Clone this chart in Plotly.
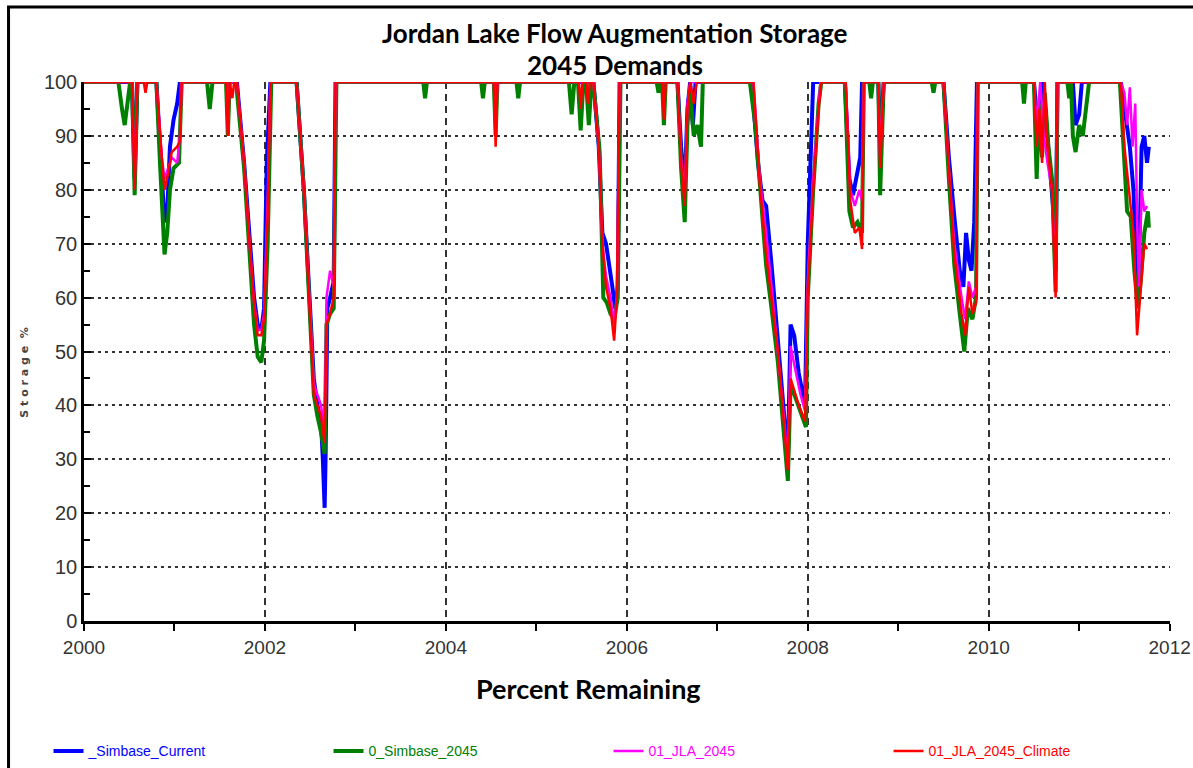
import plotly.graph_objects as go

# ---------------- data (decimal year, storage %) ----------------
SIMBASE_CURRENT = [
    (2000.00, 100), (2000.53, 100), (2000.56, 82), (2000.59, 100), (2000.80, 100),
    (2000.85, 85), (2000.89, 74), (2000.92, 76), (2000.95, 88), (2000.99, 93),
    (2001.03, 96), (2001.06, 100), (2001.69, 100), (2001.77, 85), (2001.83, 70),
    (2001.88, 60), (2001.92, 55), (2001.96, 54), (2001.99, 58), (2002.02, 85),
    (2002.06, 100), (2002.35, 100), (2002.43, 80), (2002.49, 60), (2002.54, 45),
    (2002.58, 40), (2002.62, 37), (2002.64, 30), (2002.66, 21), (2002.67, 30),
    (2002.69, 58), (2002.72, 60), (2002.76, 63), (2002.78, 100), (2005.63, 100),
    (2005.69, 88), (2005.73, 72), (2005.77, 70), (2005.80, 67), (2005.84, 62),
    (2005.87, 58), (2005.90, 62), (2005.92, 100), (2006.56, 100), (2006.60, 88),
    (2006.64, 80), (2006.67, 95), (2006.70, 100), (2006.73, 92), (2006.76, 100),
    (2007.38, 100), (2007.45, 85), (2007.50, 78), (2007.54, 77), (2007.60, 66),
    (2007.67, 52), (2007.73, 40), (2007.78, 30), (2007.81, 55), (2007.85, 53),
    (2007.90, 46), (2007.97, 40), (2008.00, 70), (2008.03, 84), (2008.06, 100),
    (2008.41, 100), (2008.46, 82), (2008.50, 79), (2008.55, 84), (2008.58, 86),
    (2008.60, 100), (2008.78, 100), (2008.80, 88), (2008.84, 100), (2009.50, 100),
    (2009.56, 86), (2009.62, 75), (2009.68, 65), (2009.72, 62), (2009.75, 72),
    (2009.78, 67), (2009.81, 65), (2009.84, 74), (2009.87, 100), (2010.50, 100),
    (2010.55, 90), (2010.60, 100), (2010.64, 92), (2010.68, 85), (2010.72, 75),
    (2010.74, 65), (2010.76, 100), (2010.93, 100), (2010.96, 92), (2011.00, 94),
    (2011.03, 100), (2011.46, 100), (2011.52, 92), (2011.56, 88), (2011.60, 80),
    (2011.64, 62), (2011.67, 72), (2011.69, 88), (2011.72, 90), (2011.75, 85),
    (2011.77, 88),
]

SIMBASE_2045 = [
    (2000.00, 100), (2000.38, 100), (2000.42, 95), (2000.45, 92), (2000.48, 96),
    (2000.51, 100), (2000.53, 100), (2000.56, 79), (2000.59, 100), (2000.80, 100),
    (2000.84, 85), (2000.87, 72), (2000.89, 68), (2000.92, 72), (2000.95, 80),
    (2000.99, 84), (2001.05, 85), (2001.08, 100), (2001.36, 100), (2001.39, 95),
    (2001.42, 100), (2001.57, 100), (2001.59, 90), (2001.61, 100), (2001.68, 100),
    (2001.77, 84), (2001.83, 68), (2001.88, 55), (2001.92, 49), (2001.96, 48),
    (2001.99, 52), (2002.03, 70), (2002.07, 100), (2002.35, 100), (2002.43, 80),
    (2002.49, 60), (2002.54, 42), (2002.58, 38), (2002.62, 35), (2002.66, 31),
    (2002.68, 55), (2002.72, 57), (2002.76, 58), (2002.79, 100), (2003.75, 100),
    (2003.77, 97), (2003.79, 100), (2004.39, 100), (2004.41, 97), (2004.43, 100),
    (2004.53, 100), (2004.55, 90), (2004.57, 100), (2004.78, 100), (2004.80, 97),
    (2004.82, 100), (2005.36, 100), (2005.39, 94), (2005.42, 100), (2005.46, 100),
    (2005.49, 91), (2005.52, 100), (2005.55, 100), (2005.58, 92), (2005.61, 100),
    (2005.63, 100), (2005.70, 87), (2005.74, 60), (2005.78, 59), (2005.82, 57),
    (2005.86, 56), (2005.90, 60), (2005.93, 100), (2006.33, 100), (2006.35, 98),
    (2006.37, 100), (2006.39, 100), (2006.41, 92), (2006.43, 100), (2006.56, 100),
    (2006.60, 84), (2006.64, 74), (2006.67, 92), (2006.70, 98), (2006.74, 90),
    (2006.78, 92), (2006.82, 88), (2006.84, 100), (2007.36, 100), (2007.42, 92),
    (2007.48, 80), (2007.54, 66), (2007.60, 58), (2007.67, 48), (2007.73, 36),
    (2007.78, 26), (2007.81, 44), (2007.90, 40), (2007.98, 36), (2008.00, 60),
    (2008.06, 80), (2008.12, 96), (2008.15, 100), (2008.41, 100), (2008.46, 76),
    (2008.50, 73), (2008.55, 74), (2008.60, 72), (2008.62, 100), (2008.68, 100),
    (2008.70, 97), (2008.72, 100), (2008.78, 100), (2008.80, 79), (2008.84, 100),
    (2009.37, 100), (2009.39, 98), (2009.41, 100), (2009.50, 100), (2009.56, 82),
    (2009.62, 66), (2009.68, 57), (2009.73, 50), (2009.77, 58), (2009.82, 56),
    (2009.86, 60), (2009.88, 100), (2010.37, 100), (2010.39, 96), (2010.41, 100),
    (2010.50, 100), (2010.53, 82), (2010.56, 96), (2010.59, 86), (2010.62, 98),
    (2010.66, 88), (2010.70, 82), (2010.74, 61), (2010.76, 100), (2010.87, 100),
    (2010.89, 97), (2010.91, 100), (2010.93, 90), (2010.96, 87), (2011.00, 92),
    (2011.04, 90), (2011.08, 96), (2011.11, 100), (2011.45, 100), (2011.50, 85),
    (2011.53, 76), (2011.57, 75), (2011.61, 65), (2011.65, 58), (2011.68, 63),
    (2011.72, 72), (2011.76, 76), (2011.77, 73),
]

JLA_2045 = [
    (2000.00, 100), (2000.53, 100), (2000.56, 81), (2000.59, 100), (2000.80, 100),
    (2000.86, 86), (2000.89, 82), (2000.93, 84), (2000.97, 86), (2001.03, 85),
    (2001.06, 90), (2001.08, 100), (2001.57, 100), (2001.59, 91), (2001.61, 100),
    (2001.69, 100), (2001.77, 85), (2001.83, 70), (2001.88, 59), (2001.92, 54),
    (2001.96, 54), (2001.99, 57), (2002.03, 78), (2002.06, 100), (2002.35, 100),
    (2002.43, 80), (2002.49, 60), (2002.54, 44), (2002.58, 42), (2002.62, 40),
    (2002.66, 35), (2002.68, 60), (2002.72, 65), (2002.76, 62), (2002.78, 100),
    (2004.53, 100), (2004.55, 90), (2004.57, 100), (2005.63, 100), (2005.69, 88),
    (2005.73, 70), (2005.77, 64), (2005.82, 60), (2005.86, 55), (2005.89, 60),
    (2005.92, 100), (2006.56, 100), (2006.60, 86), (2006.64, 79), (2006.67, 96),
    (2006.70, 100), (2007.40, 100), (2007.47, 82), (2007.54, 72), (2007.60, 62),
    (2007.67, 50), (2007.73, 39), (2007.78, 29), (2007.81, 51), (2007.87, 46),
    (2007.92, 42), (2007.97, 39), (2008.00, 63), (2008.06, 82), (2008.12, 96),
    (2008.14, 100), (2008.42, 100), (2008.47, 80), (2008.52, 77), (2008.57, 80),
    (2008.60, 78), (2008.62, 100), (2008.78, 100), (2008.80, 86), (2008.84, 100),
    (2009.50, 100), (2009.56, 84), (2009.62, 70), (2009.70, 60), (2009.74, 56),
    (2009.78, 63), (2009.82, 60), (2009.86, 62), (2009.88, 100), (2010.50, 100),
    (2010.53, 92), (2010.57, 100), (2010.61, 90), (2010.65, 85), (2010.70, 80),
    (2010.74, 62), (2010.76, 100), (2011.46, 100), (2011.50, 98), (2011.53, 92),
    (2011.56, 99), (2011.59, 88), (2011.62, 96), (2011.64, 75), (2011.66, 62),
    (2011.69, 80), (2011.72, 76), (2011.75, 77),
]

JLA_2045_CLIMATE = [
    (2000.00, 100), (2000.53, 100), (2000.56, 80), (2000.59, 100), (2000.66, 100),
    (2000.68, 98), (2000.70, 100), (2000.80, 100), (2000.86, 86), (2000.89, 80),
    (2000.93, 83), (2000.97, 87), (2001.03, 88), (2001.06, 89), (2001.08, 100),
    (2001.57, 100), (2001.59, 90), (2001.61, 100), (2001.64, 97), (2001.66, 100),
    (2001.69, 100), (2001.77, 85), (2001.83, 70), (2001.88, 59), (2001.92, 53),
    (2001.96, 53), (2001.99, 56), (2002.03, 75), (2002.06, 100), (2002.35, 100),
    (2002.43, 80), (2002.49, 60), (2002.54, 42), (2002.58, 40), (2002.62, 38),
    (2002.66, 33), (2002.68, 55), (2002.72, 57), (2002.76, 60), (2002.78, 100),
    (2004.53, 100), (2004.55, 88), (2004.57, 100), (2005.47, 100), (2005.49, 95),
    (2005.51, 100), (2005.55, 100), (2005.57, 96), (2005.59, 100), (2005.63, 100),
    (2005.69, 88), (2005.73, 70), (2005.77, 62), (2005.82, 58), (2005.86, 52),
    (2005.89, 60), (2005.92, 100), (2006.39, 100), (2006.41, 93), (2006.43, 100),
    (2006.56, 100), (2006.60, 85), (2006.64, 77), (2006.67, 95), (2006.70, 100),
    (2006.74, 96), (2006.77, 100), (2007.40, 100), (2007.47, 81), (2007.54, 68),
    (2007.60, 60), (2007.67, 50), (2007.73, 38), (2007.78, 28), (2007.81, 45),
    (2007.90, 40), (2007.97, 37), (2008.00, 61), (2008.06, 80), (2008.12, 95),
    (2008.15, 100), (2008.42, 100), (2008.47, 78), (2008.52, 72), (2008.57, 73),
    (2008.60, 69), (2008.62, 100), (2008.78, 100), (2008.80, 84), (2008.84, 100),
    (2009.50, 100), (2009.56, 83), (2009.62, 68), (2009.70, 57), (2009.74, 53),
    (2009.78, 62), (2009.82, 57), (2009.86, 59), (2009.88, 100), (2010.50, 100),
    (2010.53, 88), (2010.56, 95), (2010.59, 85), (2010.62, 100), (2010.65, 88),
    (2010.70, 80), (2010.74, 60), (2010.76, 100), (2011.46, 100), (2011.50, 88),
    (2011.55, 80), (2011.60, 72), (2011.64, 53), (2011.68, 62), (2011.72, 70),
    (2011.75, 69),
]

SERIES_NAMES = ["_Simbase_Current", "0_Simbase_2045", "01_JLA_2045", "01_JLA_2045_Climate"]
X_TICK_VALUES = [2000, 2002, 2004, 2006, 2008, 2010, 2012]
Y_TICK_VALUES = [0, 10, 20, 30, 40, 50, 60, 70, 80, 90, 100]

# ---------------- styling ----------------
W, H = 1193, 768
PL, PR, PT, PB = 83.5, 1170.0, 82.0, 620.7   # plot area in pixels


def px(xp):
    return (xp - PL) / (PR - PL)


def py(yp):
    return (PB - yp) / (PB - PT)


COLORS = ["#0000ff", "#008000", "#ff00ff", "#ff0000"]
WIDTHS = [4, 4, 2.5, 2.5]
SANS = "Liberation Sans, Arial, sans-serif"
TITLE_FONT = "Lato, Carlito, Calibri, Open Sans, sans-serif"

fig = go.Figure()
for data, name, color, width in zip(
    [SIMBASE_CURRENT, SIMBASE_2045, JLA_2045, JLA_2045_CLIMATE], SERIES_NAMES, COLORS, WIDTHS
):
    xs = [p[0] for p in data]
    ys = [p[1] for p in data]
    fig.add_trace(go.Scatter(
        x=xs, y=ys, mode="lines",
        name=f'<span style="color:{color}">{name}</span>',
        line=dict(color=color, width=width),
    ))

fig.update_layout(
    width=W, height=H,
    margin=dict(l=PL, r=W - PR, t=PT, b=H - PB, pad=0, autoexpand=False),
    paper_bgcolor="white", plot_bgcolor="white",
    showlegend=True,
    legend=dict(
        orientation="h", x=px(48), y=py(735), xanchor="left", yanchor="top",
        entrywidth=235, entrywidthmode="pixels",
        font=dict(family=SANS, size=14, color="#333"),
        itemwidth=30, bgcolor="rgba(0,0,0,0)",
    ),
    xaxis=dict(
        range=[2000, 2012.004], tickvals=X_TICK_VALUES, ticktext=[str(v) for v in X_TICK_VALUES],
        automargin=False,
        showline=True, linecolor="black", linewidth=2.5,
        ticks="outside", ticklen=7, tickwidth=2, tickcolor="black",
        minor=dict(dtick=1, tick0=2000, ticks="outside", ticklen=7, tickwidth=2,
                   tickcolor="black", showgrid=False),
        showgrid=True, gridcolor="#333", gridwidth=1.5, griddash="7px,5px",
        zeroline=False,
        tickfont=dict(family=SANS, size=19, color="#333"),
    ),
    yaxis=dict(
        range=[0, 100], tickvals=Y_TICK_VALUES,
        automargin=False,
        showline=True, linecolor="black", linewidth=2.5,
        ticks="inside", ticklen=7, tickwidth=2, tickcolor="black",
        minor=dict(dtick=5, tick0=0, ticks="inside", ticklen=6, tickwidth=2,
                   tickcolor="black", showgrid=False),
        showgrid=True, gridcolor="#333", gridwidth=2, griddash="3px,4px",
        zeroline=False,
        tickfont=dict(family=SANS, size=20, color="#333"),
    ),
    annotations=[
        dict(text="<b>Jordan Lake Flow Augmentation Storage</b>", x=px(615), y=py(33),
             xref="paper", yref="paper", showarrow=False, xanchor="center", yanchor="middle",
             font=dict(family=TITLE_FONT, size=26, color="black")),
        dict(text="<b>2045 Demands</b>", x=px(615), y=py(65),
             xref="paper", yref="paper", showarrow=False, xanchor="center", yanchor="middle",
             font=dict(family=TITLE_FONT, size=26, color="black")),
        dict(text="<b>Percent Remaining</b>", x=px(588), y=py(688),
             xref="paper", yref="paper", showarrow=False, xanchor="center", yanchor="middle",
             font=dict(family=TITLE_FONT, size=27, color="black")),
        dict(text="<b>S t o r a g e  %</b>", x=px(24), y=py(372), textangle=-90,
             xref="paper", yref="paper", showarrow=False, xanchor="center", yanchor="middle",
             font=dict(family="DejaVu Sans, Verdana, sans-serif", size=11, color="#444")),
    ],
    shapes=[
        dict(type="path", xref="paper", yref="paper",
             path=f"M {px(8)},{py(775)} L {px(8)},{py(7)} L {px(1200)},{py(7)}",
             line=dict(color="black", width=3)),
    ],
)

fig.write_html("out.html")
